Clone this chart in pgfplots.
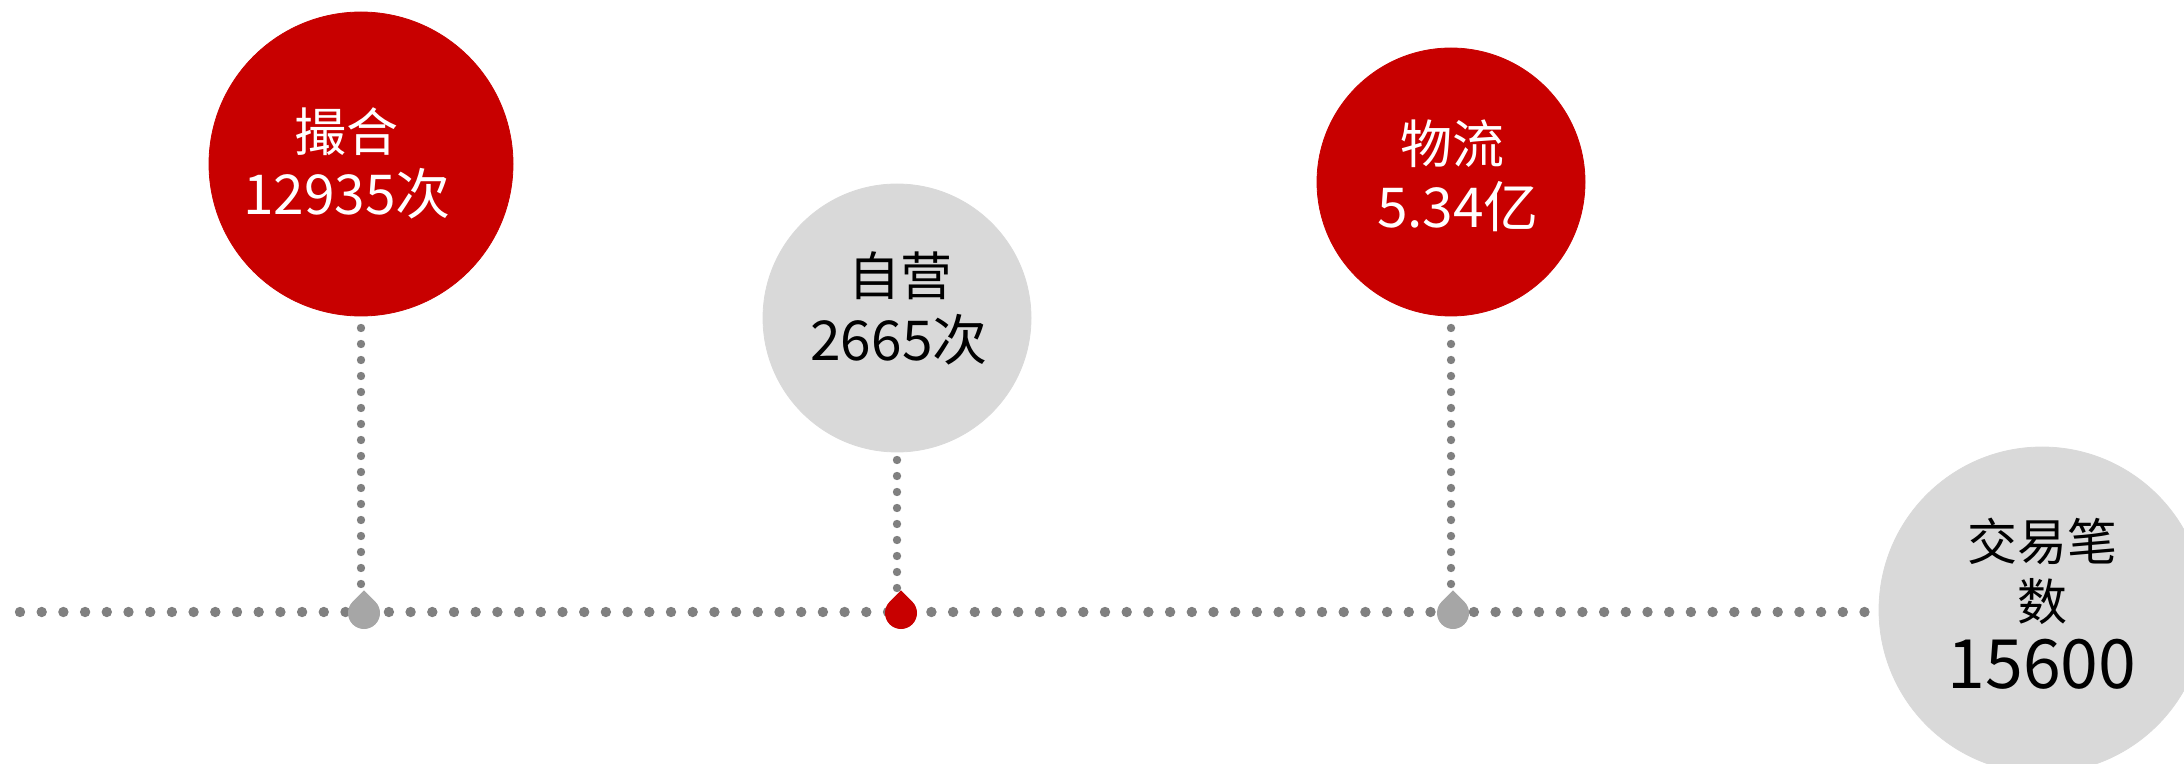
\documentclass[border=0pt]{standalone}
\usepackage{fontspec}
\usepackage{pgfplots}
\pgfplotsset{compat=1.18}
\newfontfamily\cjkfont{Noto Sans CJK SC}
\definecolor{cred}{HTML}{C80000}
\definecolor{cgrey}{HTML}{D9D9D9}
\definecolor{dotgrey}{HTML}{808080}
\definecolor{dropgrey}{HTML}{A6A6A6}
\pgfdeclareplotmark{drop}{%
  \pgfpathmoveto{\pgfqpoint{0pt}{1.414\pgfplotmarksize}}%
  \pgfpathlineto{\pgfpointpolar{45}{\pgfplotmarksize}}%
  \pgfpatharc{45}{-225}{\pgfplotmarksize}%
  \pgfpathclose
  \pgfusepathqfill
}
\begin{document}
\begin{tikzpicture}
\begin{axis}[hide axis, scale only axis, width=1092pt, height=382pt,
  xmin=0, xmax=2184, ymin=0, ymax=764, y dir=reverse, clip=false]
% horizontal dotted timeline
\addplot[dotgrey, line width=5.2pt, line cap=round, dash pattern=on 0pt off 10.85pt, mark=none]
  coordinates {(20,612) (1900,612)};
% vertical dotted connectors
\addplot[dotgrey, line width=4.2pt, line cap=round, dash pattern=on 0pt off 8pt, mark=none]
  coordinates {(361,328) (361,597)};
\addplot[dotgrey, line width=4.2pt, line cap=round, dash pattern=on 0pt off 8pt, mark=none]
  coordinates {(897,460) (897,597)};
\addplot[dotgrey, line width=4.2pt, line cap=round, dash pattern=on 0pt off 8pt, mark=none]
  coordinates {(1451,328) (1451,597)};
% bubbles
\addplot[only marks, mark=*, mark size=76pt, cred, mark options={draw=none, fill=cred}]
  coordinates {(361,164)};
\addplot[only marks, mark=*, mark size=67pt, cgrey, mark options={draw=none, fill=cgrey}]
  coordinates {(897,318)};
\addplot[only marks, mark=*, mark size=67pt, cred, mark options={draw=none, fill=cred}]
  coordinates {(1451,182)};
\addplot[only marks, mark=*, mark size=81.5pt, cgrey, mark options={draw=none, fill=cgrey}]
  coordinates {(2042,610)};
% drops
\addplot[only marks, mark=drop, mark size=8pt, dropgrey]
  coordinates {(364,613) (1453,613)};
\addplot[only marks, mark=drop, mark size=8pt, cred]
  coordinates {(901,613)};
% label anchor points
\coordinate (a1) at (axis cs:346,132);
\coordinate (b1) at (axis cs:347,194);
\coordinate (a2) at (axis cs:900,276);
\coordinate (b2) at (axis cs:899,340);
\coordinate (a3) at (axis cs:1452,144);
\coordinate (b3) at (axis cs:1458,207);
\coordinate (a4) at (axis cs:2042,541);
\coordinate (c4) at (axis cs:2042,602);
\coordinate (b4) at (axis cs:2042,664);
\end{axis}
\node[text=white, inner sep=0pt, font=\cjkfont\fontsize{26}{31}\selectfont] at (a1) {撮合};
\node[text=white, inner sep=0pt, font=\cjkfont\fontsize{27.5}{31}\selectfont] at (b1) {12935次};
\node[text=black, inner sep=0pt, font=\cjkfont\fontsize{26}{31}\selectfont] at (a2) {自营};
\node[text=black, inner sep=0pt, font=\cjkfont\fontsize{27.5}{31}\selectfont] at (b2) {2665次};
\node[text=white, inner sep=0pt, font=\cjkfont\fontsize{26}{31}\selectfont] at (a3) {物流};
\node[text=white, inner sep=0pt, font=\cjkfont\fontsize{27.5}{31}\selectfont] at (b3) {5.34亿};
\node[text=black, inner sep=0pt, font=\cjkfont\fontsize{25}{31}\selectfont] at (a4) {交易笔};
\node[text=black, inner sep=0pt, font=\cjkfont\fontsize{25}{31}\selectfont] at (c4) {数};
\node[text=black, inner sep=0pt, font=\cjkfont\fontsize{34}{40}\selectfont] at (b4) {15600};
\pgfresetboundingbox
\useasboundingbox (current axis.south west) rectangle (current axis.north east);
\end{tikzpicture}
\end{document}
